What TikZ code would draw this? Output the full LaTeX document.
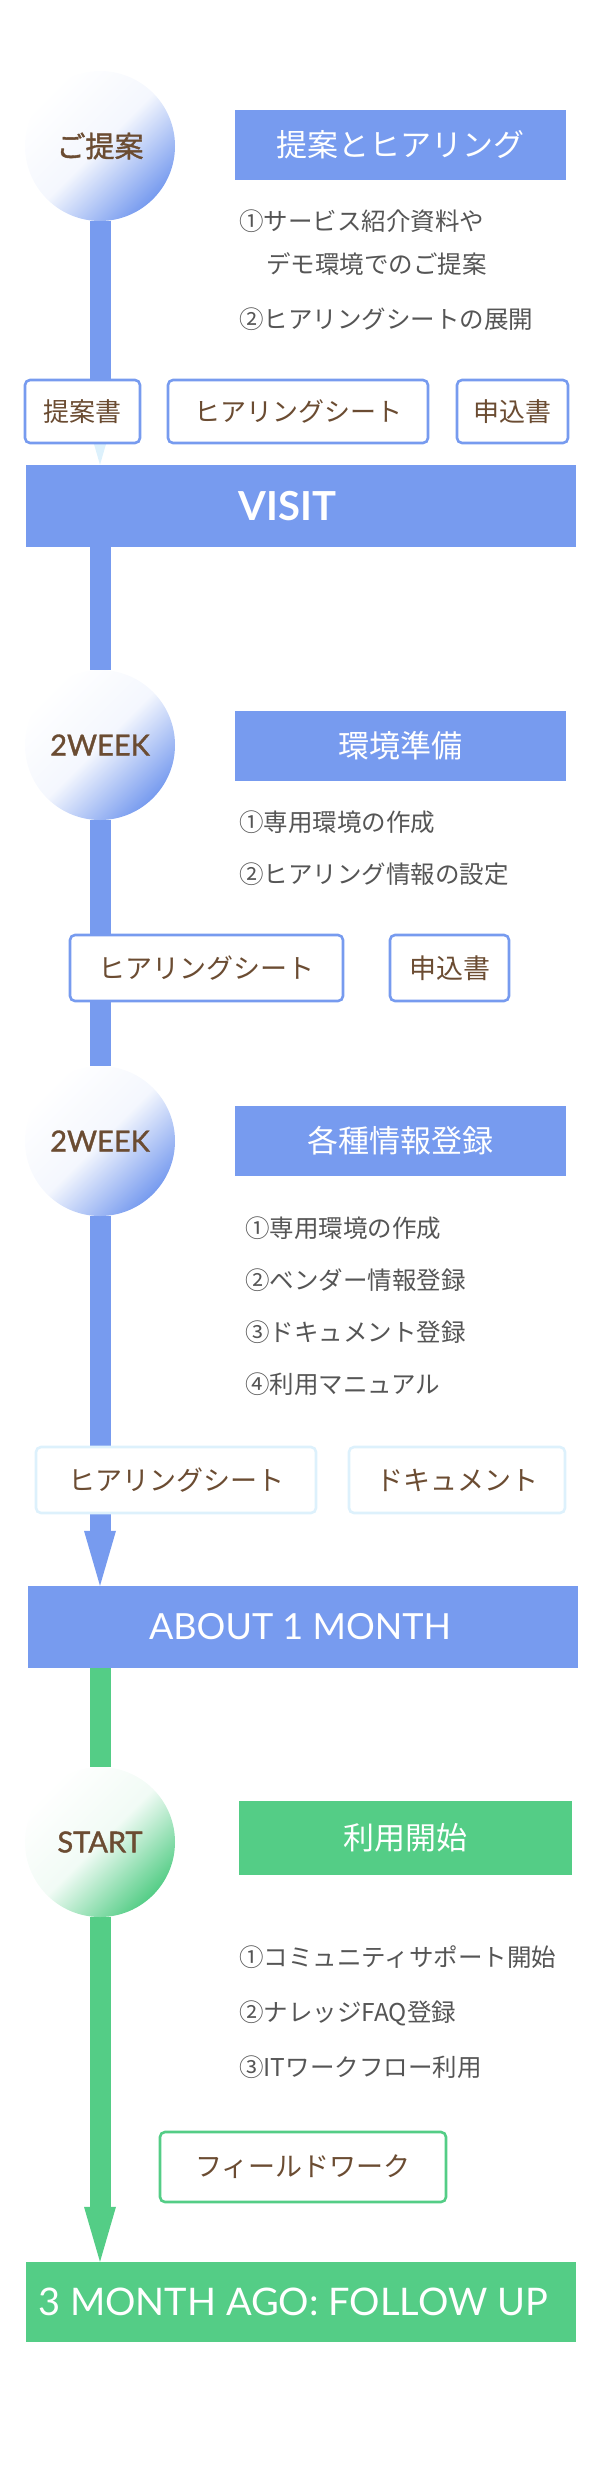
\documentclass[tikz,border=0pt]{standalone}
\usepackage{fontspec}
\setmainfont{Lato}
\newfontfamily\jpfont{Noto Sans CJK JP}
\newfontfamily\jpheavy{Noto Sans CJK JP}[FakeBold=1.3]
\newfontfamily\latoheavy{Lato}[FakeBold=1.3]
\usepackage{xcolor}
\usepackage{tikz}
\usetikzlibrary{arrows.meta,backgrounds,calc}

\definecolor{flowBlue}{RGB}{119,155,239}
\definecolor{flowGreen}{RGB}{84,205,134}
\definecolor{paleBlue}{RGB}{221,241,252}
\definecolor{labelBrown}{RGB}{107,76,50}
\definecolor{noteGray}{RGB}{85,85,85}

\begin{document}
\begin{tikzpicture}[
    x=1pt, y=-1pt,
    stepCircle/.style={
        circle, minimum size=150pt, inner sep=0pt, text=labelBrown,
        font=\latoheavy\fontsize{29}{34}\selectfont,
        top color=white, bottom color=#1, middle color=#1!8, shading angle=45
    },
    stepTitle/.style={
        rectangle, fill=#1, minimum width=331pt, minimum height=70pt, inner sep=0pt,
        text=white, font=\jpfont\fontsize{31}{36}\selectfont
    },
    stepBand/.style={
        rectangle, fill=#1, minimum width=550pt, minimum height=82pt, inner sep=0pt,
        text=white, font=\fontsize{36}{42}\selectfont
    },
    docBox/.style={
        rectangle, rounded corners=5pt, draw=#1, line width=2.6pt, fill=white,
        minimum height=66pt, inner sep=0pt, text=labelBrown,
        font=\jpfont\fontsize{27}{32}\selectfont
    },
    noteText/.style={
        anchor=west, inner sep=0pt, text=noteGray,
        font=\jpfont\fontsize{24.5}{30}\selectfont
    },
    flowBar/.style={line width=21pt, draw=#1},
    flowHead/.style={-{Triangle[length=55pt, width=32pt, line width=0pt, color=#1]}}
]
\useasboundingbox (0,0) rectangle (600,2474);

% Step 1: proposal and hearing
\node[stepCircle=flowBlue, font=\jpheavy\fontsize{29}{34}\selectfont] (propCircle) at (100,146) {ご提案};
\node[stepTitle=flowBlue] (propTitle) at (400.5,145) {提案とヒアリング};
\node[noteText] (propNoteA) at (239,221) {①サービス紹介資料や};
\node[noteText] (propNoteB) at (266,264) {デモ環境でのご提案};
\node[noteText] (propNoteC) at (239,319) {②ヒアリングシートの展開};

\node[docBox=flowBlue, minimum width=115pt, minimum height=63pt, font=\jpfont\fontsize{26}{32}\selectfont] (propDoc) at (82.5,411.5) {提案書};
\node[docBox=flowBlue, minimum width=260pt, minimum height=63pt, font=\jpfont\fontsize{26}{32}\selectfont] (propSheet) at (298,411.5) {ヒアリングシート};
\node[docBox=flowBlue, minimum width=111pt, minimum height=63pt, font=\jpfont\fontsize{26}{32}\selectfont] (propForm) at (512.5,411.5) {申込書};

\node[stepBand=flowBlue, font=\bfseries\fontsize{40}{46}\selectfont] (visit) at (300.5,506) {\hspace*{-26pt}VISIT};

% Step 2: environment setup
\node[stepCircle=flowBlue] (weekCircleA) at (100,745) {2WEEK};
\node[stepTitle=flowBlue] (envTitle) at (400,745.5) {環境準備};
\node[noteText] (envNoteA) at (239,822) {①専用環境の作成};
\node[noteText] (envNoteB) at (239,874) {②ヒアリング情報の設定};

\node[docBox=flowBlue, minimum width=273pt] (envSheet) at (206.5,968) {ヒアリングシート};
\node[docBox=flowBlue, minimum width=119pt] (envForm) at (449.5,968) {申込書};

% Step 3: registration of the various data
\node[stepCircle=flowBlue] (weekCircleB) at (100,1141) {2WEEK};
\node[stepTitle=flowBlue] (regTitle) at (400.5,1140.5) {各種情報登録};
\node[noteText] (regNoteA) at (245,1228) {①専用環境の作成};
\node[noteText] (regNoteB) at (245,1280) {②ベンダー情報登録};
\node[noteText] (regNoteC) at (245,1332) {③ドキュメント登録};
\node[noteText] (regNoteD) at (245,1384) {④利用マニュアル};

\node[docBox=paleBlue, minimum width=280pt] (regSheet) at (176,1480) {ヒアリングシート};
\node[docBox=paleBlue, minimum width=216pt] (regDocs) at (457,1480) {ドキュメント};

\node[stepBand=flowBlue] (month) at (303,1627) {\hspace*{-6pt}ABOUT 1 MONTH};

% Step 4: start of use
\node[stepCircle=flowGreen] (startCircle) at (100,1842) {START};
\node[stepTitle=flowGreen, minimum width=333pt, minimum height=74pt] (useTitle) at (405.5,1838) {利用開始};
\node[noteText] (useNoteA) at (239,1957) {①コミュニティサポート開始};
\node[noteText] (useNoteB) at (239,2013) {②ナレッジFAQ登録};
\node[noteText] (useNoteC) at (239,2067) {③ITワークフロー利用};

\node[docBox=flowGreen, minimum width=286pt, minimum height=70pt] (fieldWork) at (303,2167) {フィールドワーク};

\node[stepBand=flowGreen, minimum height=80pt, font=\fontsize{38}{44}\selectfont] (follow) at (301,2302) {\hspace*{-16pt}3 MONTH AGO: FOLLOW UP};

% Timeline bars behind the nodes
\begin{scope}[on background layer]
\draw[flowBar=flowBlue, flowHead=paleBlue] (propCircle) -- (propCircle |- visit.north);
\draw[flowBar=flowBlue] (visit.south -| weekCircleA) -- (weekCircleA);
\draw[flowBar=flowBlue] (weekCircleA) -- (weekCircleB);
\draw[flowBar=flowBlue, flowHead=flowBlue] (weekCircleB) -- (weekCircleB |- month.north);
\draw[flowBar=flowGreen] (month.south -| startCircle) -- (startCircle);
\draw[flowBar=flowGreen, flowHead=flowGreen] (startCircle) -- (startCircle |- follow.north);
\end{scope}

\end{tikzpicture}
\end{document}
